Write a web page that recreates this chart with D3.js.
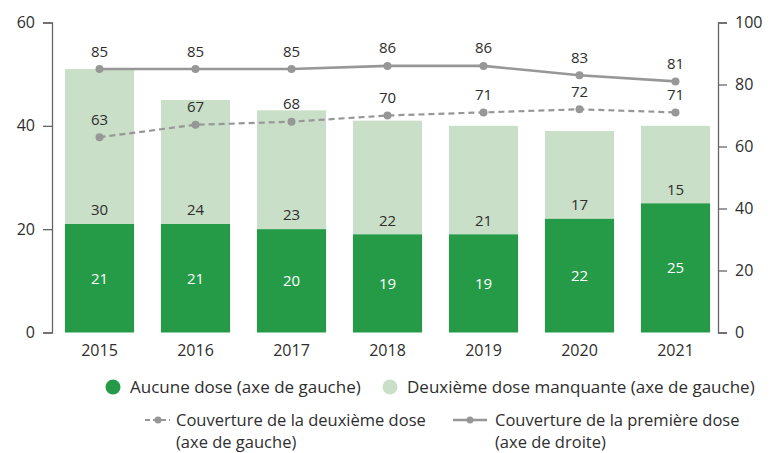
<!DOCTYPE html>
<html><head><meta charset="utf-8">
<script src="https://cdn.jsdelivr.net/npm/d3@7"></script>
<style>body{margin:0;background:#fff}svg{display:block;font-family:"Open Sans",sans-serif}</style>
</head><body><svg id="c" width="777" height="453"></svg>
<script>
const years = ["2015","2016","2017","2018","2019","2020","2021"];
const aucuneDose = [21,21,20,19,19,22,25];
const deuxiemeManquante = [30,24,23,22,21,17,15];
const couvDeuxieme = [63,67,68,70,71,72,71];
const couvPremiere = [85,85,85,86,86,83,81];
const leftTicks = [0,20,40,60];
const rightTicks = [0,20,40,60,80,100];

const svg = d3.select("#c");
const dark = "#259b48", light = "#c9dfc7", gray = "#979797", txt = "#2e2e2e";
const x = d3.scaleBand().domain(years).range([51.5,723.5]).paddingInner(0.28).paddingOuter(0.14);
const yL = d3.scaleLinear().domain([0,60]).range([332.5,22.5]);
const yR = d3.scaleLinear().domain([0,100]).range([332.5,22.5]);

// bars
const g = svg.append("g");
years.forEach((yr,i)=>{
  const a = aucuneDose[i], b = deuxiemeManquante[i];
  g.append("rect").attr("x",x(yr)).attr("width",x.bandwidth())
    .attr("y",yL(a+b)).attr("height",yL(a)-yL(a+b)).attr("fill",light);
  g.append("rect").attr("x",x(yr)).attr("width",x.bandwidth())
    .attr("y",yL(a)).attr("height",yL(0)-yL(a)).attr("fill",dark);
  g.append("text").attr("x",x(yr)+x.bandwidth()/2).attr("y",(yL(a)+yL(0))/2).attr("dy","0.35em")
    .attr("text-anchor","middle").attr("fill","#fff").attr("font-size",15).text(a);
  g.append("text").attr("x",x(yr)+x.bandwidth()/2).attr("y",yL(a)-14).attr("dy","0.35em")
    .attr("text-anchor","middle").attr("fill",txt).attr("font-size",15).text(b);
});

// axes
function styleAxis(sel){
  sel.select(".domain").attr("stroke","#666").attr("stroke-width",1.3);
  sel.selectAll(".tick line").attr("stroke","#666").attr("stroke-width",1.3);
  sel.selectAll(".tick text").attr("fill",txt).attr("font-size",16).attr("font-family","Open Sans");
}
svg.append("g").attr("transform","translate(52,0)")
  .call(d3.axisLeft(yL).tickValues(leftTicks).tickSizeOuter(9).tickSize(9).tickPadding(8))
  .call(styleAxis);
svg.append("g").attr("transform","translate(718,0)")
  .call(d3.axisRight(yR).tickValues(rightTicks).tickSize(9).tickSizeOuter(9).tickPadding(8))
  .call(styleAxis);
const xa = svg.append("g").attr("transform","translate(0,332.5)")
  .call(d3.axisBottom(x).tickSize(0).tickPadding(12));
xa.select(".domain").remove();
xa.selectAll(".tick text").attr("fill",txt).attr("font-size",16).attr("font-family","Open Sans");

// lines
function drawLine(vals, dashed){
  const line = d3.line().x((d,i)=>x(years[i])+x.bandwidth()/2).y(d=>yR(d));
  svg.append("path").datum(vals).attr("d",line).attr("fill","none").attr("stroke",gray)
    .attr("stroke-width",dashed?2.2:2.6).attr("stroke-dasharray",dashed?"6,4":null);
  vals.forEach((v,i)=>{
    const cx = x(years[i])+x.bandwidth()/2;
    svg.append("circle").attr("cx",cx).attr("cy",yR(v)).attr("r",4).attr("fill",gray);
    svg.append("text").attr("x",cx).attr("y",yR(v)-14).attr("text-anchor","middle")
      .attr("fill",txt).attr("font-size",15).attr("dy","0.1em").text(v);
  });
}
drawLine(couvDeuxieme,true);
drawLine(couvPremiere,false);

// legend
const lg = svg.append("g").attr("font-size",17).attr("fill",txt);
lg.append("circle").attr("cx",113).attr("cy",387).attr("r",7.5).attr("fill",dark);
lg.append("text").attr("x",130).attr("y",387).attr("dy","0.35em").attr("fill",txt).text("Aucune dose (axe de gauche)");
lg.append("circle").attr("cx",390).attr("cy",387).attr("r",7.5).attr("fill",light);
lg.append("text").attr("x",407).attr("y",387).attr("dy","0.35em").attr("fill",txt).text("Deuxième dose manquante (axe de gauche)");
const lg2 = lg.append("g").attr("font-size",16.5);
lg2.append("line").attr("x1",145).attr("x2",170).attr("y1",420).attr("y2",420).attr("stroke",gray).attr("stroke-width",2.2).attr("stroke-dasharray","5,3");
lg2.append("circle").attr("cx",158).attr("cy",420).attr("r",3.5).attr("fill",gray);
lg2.append("text").attr("x",176).attr("y",420).attr("dy","0.35em").attr("fill",txt).text("Couverture de la deuxième dose");
lg2.append("text").attr("x",176).attr("y",442).attr("dy","0.35em").attr("fill",txt).text("(axe de gauche)");
lg2.append("line").attr("x1",453).attr("x2",487).attr("y1",420).attr("y2",420).attr("stroke",gray).attr("stroke-width",2.6);
lg2.append("circle").attr("cx",470).attr("cy",420).attr("r",3.5).attr("fill",gray);
lg2.append("text").attr("x",495).attr("y",420).attr("dy","0.35em").attr("fill",txt).text("Couverture de la première dose");
lg2.append("text").attr("x",495).attr("y",442).attr("dy","0.35em").attr("fill",txt).text("(axe de droite)");
</script></body></html>
